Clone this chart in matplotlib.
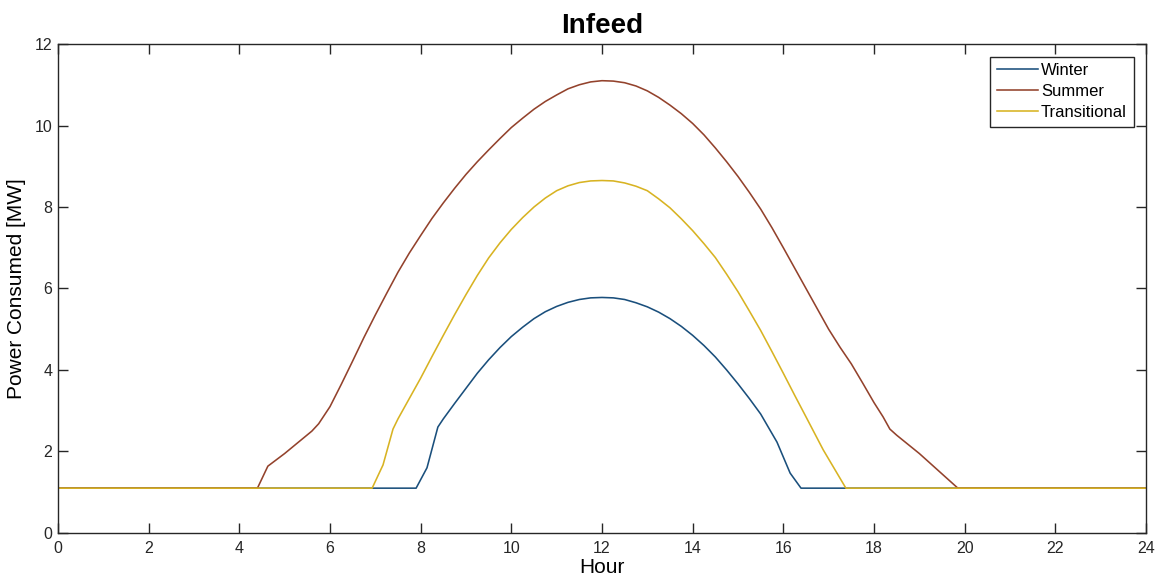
import matplotlib
matplotlib.use("Agg")
import matplotlib.pyplot as plt

# hours / power values (MW)
winter_h = [0, 7.9, 8.14, 8.38, 8.5, 8.75, 9.0, 9.25, 9.5, 9.75, 10.0, 10.25,
            10.5, 10.75, 11.0, 11.25, 11.5, 11.75, 12.0, 12.25, 12.5, 12.75,
            13.0, 13.25, 13.5, 13.75, 14.0, 14.25, 14.5, 14.75, 15.0, 15.25,
            15.5, 15.86, 16.15, 16.39, 24]
winter_p = [1.1, 1.1, 1.6, 2.6, 2.8, 3.18, 3.55, 3.92, 4.25, 4.55, 4.82, 5.05,
            5.26, 5.43, 5.56, 5.66, 5.73, 5.77, 5.78, 5.77, 5.73, 5.65,
            5.55, 5.42, 5.26, 5.07, 4.85, 4.6, 4.32, 4.0, 3.66, 3.3,
            2.92, 2.23, 1.47, 1.1, 1.1]

summer_h = [0, 4.4, 4.63, 5.0, 5.6, 5.75, 6.0, 6.25, 6.5, 6.75, 7.0, 7.25, 7.5,
            7.75, 8.0, 8.25, 8.5, 8.75, 9.0, 9.25, 9.5, 9.75, 10.0, 10.25, 10.5,
            10.75, 11.0, 11.25, 11.5, 11.75, 12.0, 12.25, 12.5, 12.75, 13.0,
            13.25, 13.5, 13.75, 14.0, 14.25, 14.5, 14.75, 15.0, 15.25, 15.5,
            15.75, 16.0, 16.25, 16.5, 16.75, 17.0, 17.25, 17.5, 17.75, 18.0,
            18.2, 18.35, 18.5, 19.0, 19.5, 19.85, 24]
summer_p = [1.1, 1.1, 1.64, 1.95, 2.5, 2.68, 3.1, 3.65, 4.22, 4.8, 5.35, 5.88, 6.4,
            6.87, 7.3, 7.72, 8.1, 8.46, 8.8, 9.11, 9.4, 9.68, 9.95, 10.18, 10.4,
            10.59, 10.75, 10.9, 11.0, 11.07, 11.1, 11.09, 11.05, 10.97, 10.85,
            10.69, 10.5, 10.29, 10.05, 9.77, 9.45, 9.11, 8.75, 8.36, 7.95,
            7.49, 7.0, 6.5, 6.0, 5.5, 5.0, 4.56, 4.15, 3.68, 3.2,
            2.85, 2.55, 2.4, 1.95, 1.45, 1.1, 1.1]

trans_h = [0, 6.93, 7.17, 7.39, 7.5, 7.75, 8.0, 8.25, 8.5, 8.75, 9.0, 9.25, 9.5,
           9.75, 10.0, 10.25, 10.5, 10.75, 11.0, 11.25, 11.5, 11.75, 12.0,
           12.25, 12.5, 12.75, 13.0, 13.25, 13.5, 13.75, 14.0, 14.25, 14.5,
           14.75, 15.0, 15.25, 15.5, 15.75, 16.0, 16.25, 16.5, 16.88, 17.38, 24]
trans_p = [1.1, 1.1, 1.67, 2.55, 2.8, 3.3, 3.8, 4.33, 4.85, 5.36, 5.85, 6.32, 6.75,
           7.12, 7.45, 7.74, 8.0, 8.22, 8.4, 8.52, 8.6, 8.64, 8.65,
           8.64, 8.59, 8.51, 8.4, 8.2, 7.98, 7.71, 7.42, 7.1, 6.76,
           6.35, 5.92, 5.45, 4.97, 4.45, 3.92, 3.38, 2.85, 2.04, 1.1, 1.1]

plt.rcParams['font.family'] = ['Liberation Sans', 'DejaVu Sans']

fig = plt.figure(figsize=(11.57, 5.83), dpi=100)
ax = fig.add_axes([0.0501, 0.0858, 0.9404, 0.8387])

ax.plot(winter_h, winter_p, color='#1a4f7c', lw=1.15, label='Winter')
ax.plot(summer_h, summer_p, color='#93422c', lw=1.15, label='Summer')
ax.plot(trans_h, trans_p, color='#d8b322', lw=1.15, label='Transitional')

ax.set_xlim(0, 24)
ax.set_ylim(0, 12)
ax.set_xticks(range(0, 25, 2))
ax.set_yticks(range(0, 13, 2))
ax.tick_params(direction='in', length=7, width=1, top=True, right=True,
               labelsize=11.5, colors='#262626')
ax.tick_params(axis='x', pad=6)
ax.tick_params(axis='y', pad=4)
for s in ax.spines.values():
    s.set_linewidth(1)
    s.set_color('#262626')

ax.set_title('Infeed', fontsize=20, fontweight='bold', pad=8)
ax.set_xlabel('Hour', fontsize=15, labelpad=1)
ax.set_ylabel('Power Consumed [MW]', fontsize=15, labelpad=6)

leg = ax.legend(loc='upper right', fontsize=12, fancybox=False,
                edgecolor='#262626', framealpha=1, handlelength=2.5,
                handletextpad=0.15, labelspacing=0.35, borderaxespad=0.75,
                borderpad=0.4)
leg.get_frame().set_linewidth(1)

fig.savefig('out.png', dpi=100)
